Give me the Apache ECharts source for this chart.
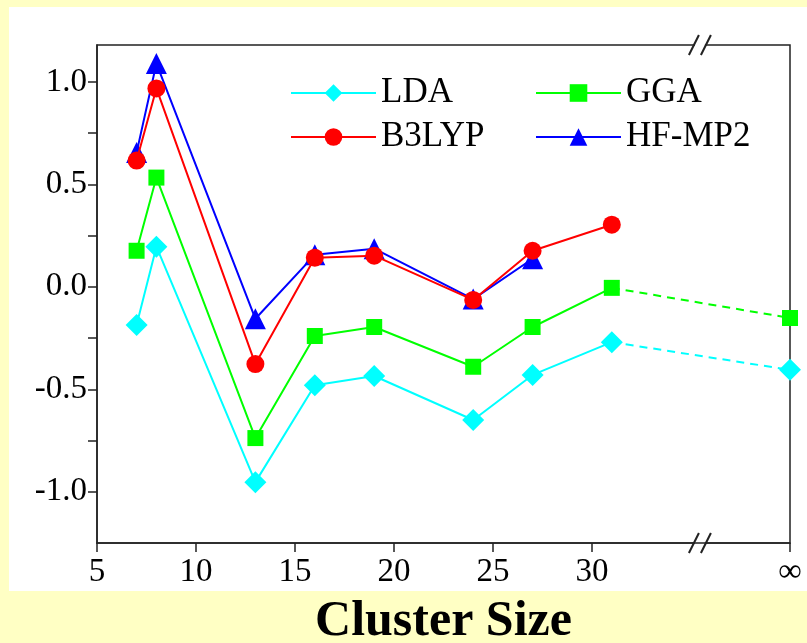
<!DOCTYPE html>
<html>
<head>
<meta charset="utf-8">
<script src="https://cdn.jsdelivr.net/npm/echarts@6/dist/echarts.min.js"></script>
<style>
  html, body { margin: 0; padding: 0; background: #ffffc4; }
  #chart { width: 807px; height: 643px; }
</style>
</head>
<body>
<div id="chart"></div>
<script>
// Cluster sizes with finite values; the ∞ column sits at x = 40 on the scale
const sizes = [7, 8, 13, 16, 19, 24, 27, 31];
const INF_POS = 40;
const BREAK_POS = 35.45;

const lda   = [-0.186, 0.196, -0.953, -0.48, -0.435, -0.65, -0.43, -0.27];
const gga   = [0.176, 0.533, -0.738, -0.24, -0.196, -0.39, -0.196, -0.005];
const b3lyp = [0.616, 0.968, -0.377, 0.142, 0.152, -0.064, 0.176, 0.303];
const hfmp2 = [0.655, 1.09, -0.156, 0.156, 0.186, -0.06, 0.137];
const ldaInf = -0.405;
const ggaInf = -0.152;

const xTicks = [5, 10, 15, 20, 25, 30, 40];
const xTickLabels = ['5', '10', '15', '20', '25', '30', '∞'];
const yTicks = [-1, -0.75, -0.5, -0.25, 0, 0.25, 0.5, 0.75, 1];
const yLabels = [-1, -0.5, 0, 0.5, 1];

const FONT = '"Liberation Serif", "Times New Roman", serif';
const AXIS_COLOR = '#222';

const pairs = (vals) => vals.map((v, i) => [sizes[i], v]);
const tail = (last, inf) => [
  { value: [sizes[sizes.length - 1], last], symbol: 'none' },
  { value: [INF_POS, inf] }
];

const chart = echarts.init(document.getElementById('chart'));

function lineSeries(name, color, symbol, size, data, z) {
  return {
    name, type: 'line', data, z,
    symbol, symbolSize: size,
    itemStyle: { color },
    lineStyle: { color, width: 2 },
    emphasis: { disabled: true },
    animation: false
  };
}

const legendText = { fontFamily: FONT, fontSize: 35, color: '#000', lineHeight: 36 };

chart.setOption({
  backgroundColor: '#ffffc4',
  animation: false,
  grid: {
    left: 97, right: 17, top: 45, bottom: 100,
    outerBoundsMode: 'none', containLabel: false,
    show: true, borderColor: AXIS_COLOR, borderWidth: 1.5, backgroundColor: 'transparent'
  },
  legend: [
    {
      data: ['LDA', 'B3LYP'], orient: 'vertical', left: 285, top: 70,
      itemWidth: 85, itemHeight: 22, itemGap: 8, textStyle: legendText
    },
    {
      data: ['GGA', 'HF-MP2'], orient: 'vertical', left: 530, top: 70,
      itemWidth: 85, itemHeight: 22, itemGap: 8, textStyle: legendText
    }
  ],
  xAxis: {
    type: 'value', min: 5, max: INF_POS,
    name: 'Cluster Size', nameLocation: 'middle', nameGap: 54,
    nameTextStyle: { fontFamily: FONT, fontSize: 50, fontWeight: 'bold', color: '#000' },
    axisLine: { show: true, onZero: false, lineStyle: { color: AXIS_COLOR, width: 1.5 } },
    axisTick: { show: true, customValues: xTicks, length: 9, lineStyle: { color: AXIS_COLOR, width: 1.5 } },
    axisLabel: {
      customValues: xTicks, margin: 13,
      formatter: (v) => xTickLabels[xTicks.indexOf(v)] ?? '',
      fontFamily: FONT, fontSize: 33, color: '#000'
    },
    splitLine: { show: false }
  },
  yAxis: {
    type: 'value', min: -1.25, max: 1.18,
    axisLine: { show: true, onZero: false, lineStyle: { color: AXIS_COLOR, width: 1.5 } },
    axisTick: { show: true, customValues: yTicks, length: 9, lineStyle: { color: AXIS_COLOR, width: 1.5 } },
    axisLabel: {
      customValues: yLabels, margin: 10,
      formatter: (v) => v.toFixed(1),
      fontFamily: FONT, fontSize: 33, color: '#000'
    },
    splitLine: { show: false }
  },
  series: [
    lineSeries('LDA', '#00ffff', 'diamond', 22, pairs(lda), 3),
    Object.assign(lineSeries('LDA', '#00ffff', 'diamond', 22, tail(lda[lda.length - 1], ldaInf), 3),
      { lineStyle: { color: '#00ffff', width: 2, type: [8, 6] } }),
    lineSeries('GGA', '#00ff00', 'rect', 16, pairs(gga), 4),
    Object.assign(lineSeries('GGA', '#00ff00', 'rect', 16, tail(gga[gga.length - 1], ggaInf), 4),
      { lineStyle: { color: '#00ff00', width: 2, type: [8, 6] } }),
    lineSeries('HF-MP2', '#0000ff', 'triangle', 21, pairs(hfmp2), 5),
    lineSeries('B3LYP', '#ff0000', 'circle', 18, pairs(b3lyp), 6)
  ]
});

// White panel behind the plot and the axis-break marks on the top and bottom frame lines
const bx = chart.convertToPixel({ xAxisIndex: 0 }, BREAK_POS);
const yTop = 45, yBottom = 643 - 100;
function breakMark(id, cy) {
  return {
    type: 'group', id, z: 50,
    children: [
      { type: 'rect', shape: { x: bx - 5, y: cy - 2, width: 10, height: 4 }, style: { fill: '#fff' } },
      { type: 'line', shape: { x1: bx - 11, y1: cy + 10, x2: bx - 1, y2: cy - 10 }, style: { stroke: AXIS_COLOR, lineWidth: 2 } },
      { type: 'line', shape: { x1: bx + 1, y1: cy + 10, x2: bx + 11, y2: cy - 10 }, style: { stroke: AXIS_COLOR, lineWidth: 2 } }
    ]
  };
}
chart.setOption({
  graphic: [
    { type: 'rect', id: 'panel', z: -10, silent: true,
      shape: { x: 9, y: 7, width: 798, height: 584 }, style: { fill: '#ffffff' } },
    breakMark('breakTop', yTop),
    breakMark('breakBottom', yBottom)
  ]
});
</script>
</body>
</html>
